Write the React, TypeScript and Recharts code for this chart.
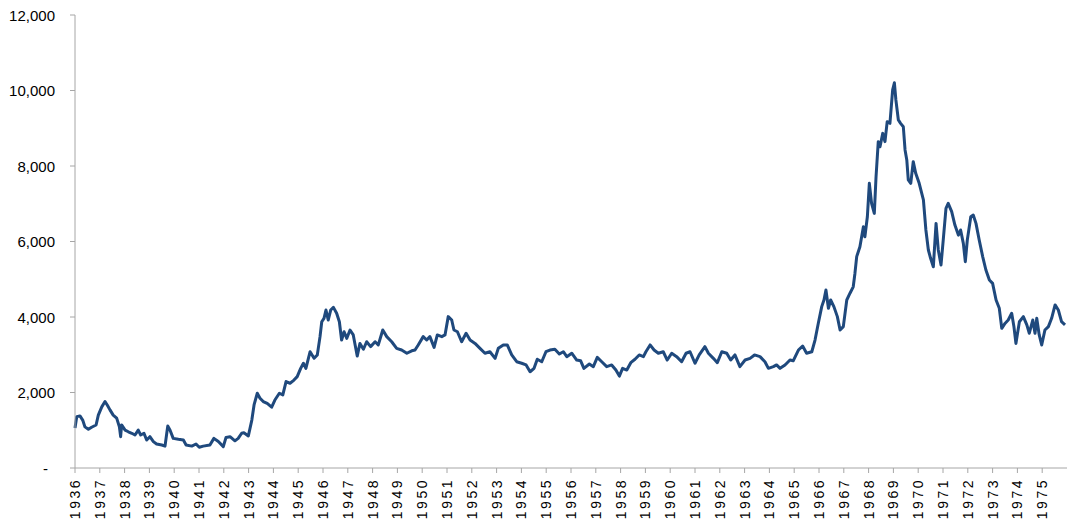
import { LineChart, Line, XAxis, YAxis } from 'recharts';

// decimal year of each reading
const dates = [
    1936.00, 1936.07, 1936.20, 1936.31, 1936.40, 1936.54, 1936.67, 1936.85, 1936.94,
    1937.08, 1937.21, 1937.30, 1937.41, 1937.54, 1937.68, 1937.79, 1937.84, 1937.88,
    1938.02, 1938.15, 1938.29, 1938.42, 1938.55, 1938.65, 1938.78, 1938.89,
    1939.02, 1939.16, 1939.29, 1939.50, 1939.63, 1939.70, 1939.74, 1939.83, 1939.96,
    1940.17, 1940.37, 1940.48, 1940.71, 1940.88,
    1941.01, 1941.17, 1941.44, 1941.60, 1941.78, 1941.98,
    1942.09, 1942.25, 1942.45, 1942.58, 1942.72, 1942.81, 1942.99,
    1943.13, 1943.22, 1943.35, 1943.46, 1943.59, 1943.75, 1943.93,
    1944.06, 1944.24, 1944.38, 1944.51, 1944.67, 1944.83, 1944.96,
    1945.10, 1945.21, 1945.31, 1945.48, 1945.64, 1945.77, 1945.88, 1945.95,
    1946.04, 1946.12, 1946.21, 1946.31, 1946.42, 1946.55, 1946.66, 1946.75, 1946.85, 1946.96,
    1947.09, 1947.22, 1947.38, 1947.49, 1947.63, 1947.76, 1947.92,
    1948.10, 1948.23, 1948.41, 1948.57, 1948.77, 1948.97,
    1949.17, 1949.38, 1949.58, 1949.71, 1949.84,
    1950.04, 1950.18, 1950.31, 1950.48, 1950.61, 1950.79, 1950.92,
    1951.05, 1951.19, 1951.28, 1951.42, 1951.59, 1951.77, 1951.93,
    1952.13, 1952.33, 1952.53, 1952.73, 1952.94,
    1953.07, 1953.27, 1953.43, 1953.61, 1953.81,
    1954.01, 1954.19, 1954.35, 1954.51, 1954.64, 1954.82, 1954.99,
    1955.15, 1955.35, 1955.53, 1955.69, 1955.83,
    1956.03, 1956.23, 1956.39, 1956.52, 1956.74, 1956.90,
    1957.06, 1957.24, 1957.44, 1957.64, 1957.81, 1957.95,
    1958.08, 1958.25, 1958.41, 1958.58, 1958.75, 1958.92,
    1959.02, 1959.19, 1959.35, 1959.52, 1959.72, 1959.88,
    1960.06, 1960.26, 1960.46, 1960.64, 1960.80,
    1961.00, 1961.17, 1961.40, 1961.54, 1961.74, 1961.90,
    1962.08, 1962.28, 1962.44, 1962.61, 1962.81,
    1963.02, 1963.22, 1963.40, 1963.62, 1963.82, 1963.96,
    1964.16, 1964.29, 1964.43, 1964.63, 1964.83, 1964.96,
    1965.17, 1965.34, 1965.50, 1965.71, 1965.84, 1965.97,
    1966.11, 1966.20, 1966.28, 1966.38, 1966.47, 1966.60, 1966.74, 1966.85, 1966.98,
    1967.12, 1967.25, 1967.38, 1967.45, 1967.52, 1967.65, 1967.79, 1967.85, 1967.95,
    1968.03, 1968.12, 1968.23, 1968.30, 1968.39, 1968.46, 1968.57, 1968.66, 1968.75, 1968.86, 1968.97,
    1969.04, 1969.10, 1969.20, 1969.29, 1969.40, 1969.47, 1969.54, 1969.60, 1969.70, 1969.80, 1969.90,
    1970.04, 1970.21, 1970.31, 1970.41, 1970.50, 1970.61, 1970.72, 1970.81, 1970.92,
    1971.01, 1971.12, 1971.21, 1971.35, 1971.48, 1971.62, 1971.71, 1971.82, 1971.90, 1971.98,
    1972.12, 1972.22, 1972.33, 1972.46, 1972.60, 1972.73, 1972.87,
    1973.00, 1973.14, 1973.27, 1973.37, 1973.50, 1973.63, 1973.77, 1973.86, 1973.94,
    1974.08, 1974.24, 1974.38, 1974.48, 1974.62, 1974.71, 1974.78, 1974.88, 1974.98,
    1975.11, 1975.25, 1975.38, 1975.52, 1975.65, 1975.78, 1975.92,
];

const values = [
    1060, 1360, 1380, 1270, 1090, 1025, 1080, 1140, 1400,
    1620, 1760, 1670, 1540, 1400, 1320, 1090, 830, 1140,
    1005, 960, 920, 875, 1005, 875, 920, 740,
    830, 700, 635, 610, 580, 920, 1110, 1005, 785,
    760, 740, 610, 580, 635,
    550, 580, 610, 785, 700, 565,
    810, 830, 720, 785, 920, 935, 850,
    1270, 1670, 1980, 1850, 1760, 1710, 1610,
    1800, 1980, 1935, 2290, 2245, 2330, 2420,
    2640, 2775, 2640, 3080, 2905, 2995, 3480, 3875,
    3965, 4185, 3920, 4185, 4255, 4100, 3875, 3390, 3610, 3435,
    3655, 3525, 2965, 3300, 3145, 3345, 3215,
    3345, 3260, 3655, 3480, 3345, 3170,
    3125, 3040, 3105, 3125, 3260,
    3480, 3390, 3480, 3195, 3525, 3480, 3525,
    4010, 3920, 3655, 3610, 3345, 3570, 3390,
    3300, 3170, 3040, 3080, 2905,
    3170, 3260, 3260, 2995, 2815,
    2775, 2730, 2550, 2640, 2880, 2815, 3080,
    3125, 3145, 3020, 3080, 2950,
    3040, 2860, 2840, 2640, 2755, 2685,
    2930, 2815, 2685, 2730, 2595, 2435,
    2640, 2595, 2790, 2880, 2995, 2950,
    3080, 3260, 3125, 3040, 3080, 2860,
    3040, 2950, 2815, 3040, 3080,
    2775, 2995, 3215, 3040, 2905, 2790,
    3080, 3040, 2860, 2995, 2685,
    2860, 2905, 2995, 2950, 2815, 2640,
    2685, 2730, 2640, 2730, 2860, 2840,
    3125, 3230, 3040, 3080, 3390, 3830,
    4275, 4450, 4715, 4230, 4450, 4275, 4010, 3655, 3745,
    4450, 4630, 4800, 5160, 5600, 5860, 6390, 6125, 6655,
    7540, 7010, 6745, 7715, 8645, 8510, 8865, 8645, 9175, 9130, 10015,
    10205, 9750, 9220, 9130, 9040, 8425, 8160, 7630, 7540, 8115, 7805,
    7540, 7100, 6305, 5775, 5555, 5330, 6480, 5775, 5380,
    6040, 6880, 7010, 6790, 6435, 6170, 6305, 5950, 5465, 6040,
    6655, 6700, 6480, 6040, 5600, 5245, 4980,
    4890, 4450, 4230, 3700, 3830, 3920, 4100, 3745, 3300,
    3875, 4010, 3790, 3570, 3920, 3570, 3965, 3525, 3260,
    3655, 3745, 3965, 4320, 4185, 3875, 3790,
];

const yearTicks = [
    1936, 1937, 1938, 1939, 1940, 1941, 1942, 1943, 1944, 1945,
    1946, 1947, 1948, 1949, 1950, 1951, 1952, 1953, 1954, 1955,
    1956, 1957, 1958, 1959, 1960, 1961, 1962, 1963, 1964, 1965,
    1966, 1967, 1968, 1969, 1970, 1971, 1972, 1973, 1974, 1975,
];
const valueTicks = [0, 2000, 4000, 6000, 8000, 10000, 12000];

const data = dates.map((d, i) => ({ date: d, value: values[i] }));

const FONT = '"Liberation Sans", Arial, sans-serif';

function YearTick(props: any) {
    const { x, y, payload } = props;
    return (
        <text
            x={x}
            y={y}
            transform={`rotate(-90, ${x}, ${y})`}
            textAnchor="end"
            dominantBaseline="central"
            fontFamily={FONT}
            fontSize={14}
            letterSpacing={2.5}
            fill="#000"
        >
            {String(payload.value)}
        </text>
    );
}

function ValueTick(props: any) {
    const { x, y, payload } = props;
    const v = payload.value;
    return (
        <text
            x={v === 0 ? x - 7 : x}
            y={y}
            textAnchor="end"
            dominantBaseline="central"
            fontFamily={FONT}
            fontSize={15}
            fill="#000"
        >
            {v === 0 ? '-' : v.toLocaleString('en-US')}
        </text>
    );
}

export default function App() {
    return (
        <div style={{ width: 1080, height: 522, background: '#fff' }}>
            <style>{`body{margin:0}`}</style>
            <LineChart width={1080} height={522} data={data} margin={{ top: 15, right: 13, left: 15, bottom: 0 }}>
                <XAxis
                    dataKey="date"
                    type="number"
                    domain={[1936, 1976]}
                    ticks={yearTicks}
                    interval={0}
                    height={54}
                    stroke="#a6a6a6"
                    tickSize={5}
                    tickMargin={5}
                    tick={<YearTick />}
                />
                <YAxis
                    type="number"
                    domain={[0, 12000]}
                    ticks={valueTicks}
                    interval={0}
                    width={60}
                    stroke="#a6a6a6"
                    tickSize={5}
                    tickMargin={15}
                    tick={<ValueTick />}
                />
                <Line
                    type="linear"
                    dataKey="value"
                    stroke="#1F497D"
                    strokeWidth={3}
                    strokeLinejoin="round"
                    dot={false}
                    isAnimationActive={false}
                />
            </LineChart>
        </div>
    );
}
